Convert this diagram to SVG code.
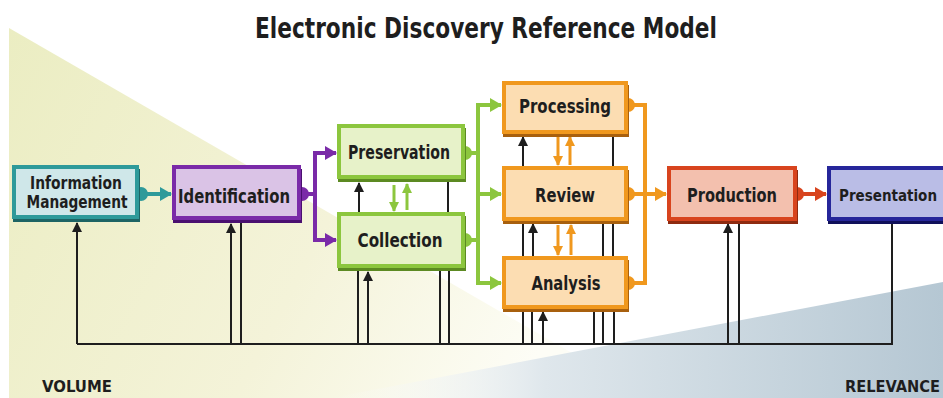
<svg xmlns="http://www.w3.org/2000/svg" width="943" height="398" viewBox="0 0 943 398">
<defs>
<linearGradient id="gVol" x1="0" y1="0" x2="1" y2="0.3">
<stop offset="0" stop-color="#ebedc2"/>
<stop offset="0.6" stop-color="#f4f3d9"/>
<stop offset="1" stop-color="#fdfdf6"/>
</linearGradient>
<linearGradient id="gRel" x1="0" y1="0" x2="1" y2="0">
<stop offset="0" stop-color="#ffffff" stop-opacity="0"/>
<stop offset="0.35" stop-color="#dfe7ec"/>
<stop offset="1" stop-color="#b5c7d3"/>
</linearGradient>
<marker id="aTeal" markerUnits="userSpaceOnUse" markerWidth="12" markerHeight="14" refX="11" refY="7" orient="auto"><path d="M0,0 L12,7 L0,14 Z" fill="#2e9a9a"/></marker>
<marker id="aPurple" markerUnits="userSpaceOnUse" markerWidth="12" markerHeight="14" refX="11" refY="7" orient="auto"><path d="M0,0 L12,7 L0,14 Z" fill="#7a2aa8"/></marker>
<marker id="aGreen" markerUnits="userSpaceOnUse" markerWidth="12" markerHeight="14" refX="11" refY="7" orient="auto"><path d="M0,0 L12,7 L0,14 Z" fill="#8cc63e"/></marker>
<marker id="aOrange" markerUnits="userSpaceOnUse" markerWidth="12" markerHeight="14" refX="11" refY="7" orient="auto"><path d="M0,0 L12,7 L0,14 Z" fill="#f0981e"/></marker>
<marker id="aRed" markerUnits="userSpaceOnUse" markerWidth="12" markerHeight="14" refX="11" refY="7" orient="auto"><path d="M0,0 L12,7 L0,14 Z" fill="#d8441e"/></marker>
<marker id="aBlack" markerUnits="userSpaceOnUse" markerWidth="10" markerHeight="10" refX="9" refY="5" orient="auto"><path d="M0,0 L10,5 L0,10 Z" fill="#1e1e1e"/></marker>
<marker id="aGreenS" markerUnits="userSpaceOnUse" markerWidth="10" markerHeight="10" refX="9" refY="5" orient="auto"><path d="M0,0 L10,5 L0,10 Z" fill="#8cc63e"/></marker>
<marker id="aOrangeS" markerUnits="userSpaceOnUse" markerWidth="10" markerHeight="10" refX="9" refY="5" orient="auto"><path d="M0,0 L10,5 L0,10 Z" fill="#f0981e"/></marker>
</defs>
<style>
.lbl{font-family:"Liberation Sans Narrow","DejaVu Sans Condensed","Liberation Sans",sans-serif;font-weight:bold;font-stretch:condensed;fill:#1e1e1e;}
.node{font-size:19px;}
.blk{stroke:#1e1e1e;stroke-width:2;fill:none;}
.sh{stroke:none;}
.box{stroke-width:4;}
.teal .box{stroke:#2e9a9a;fill:#cfe7e9;} .teal .sh{fill:#1d6464;}
.purple .box{stroke:#7a2aa8;fill:#dac3e6;} .purple .sh{fill:#4a1070;}
.green .box{stroke:#8cc63e;fill:#e7f2c9;} .green .sh{fill:#5c8a22;}
.orange .box{stroke:#f0981e;fill:#fcddb2;} .orange .sh{fill:#a8600e;}
.red .box{stroke:#d8441e;fill:#f3c0ae;} .red .sh{fill:#8e2a10;}
.blue .box{stroke:#26269a;fill:#babde6;} .blue .sh{fill:#10105a;}
.cTeal{stroke:#2e9a9a;fill:none;stroke-width:4;}
.cPurple{stroke:#7a2aa8;fill:none;stroke-width:4;}
.cGreen{stroke:#8cc63e;fill:none;stroke-width:4;}
.cOrange{stroke:#f0981e;fill:none;stroke-width:4;}
.cRed{stroke:#d8441e;fill:none;stroke-width:4;}
</style>
<rect x="0" y="0" width="943" height="398" fill="#ffffff"/>
<polygon points="9,28 9,398 650,398" fill="url(#gVol)"/>
<polygon points="330,398 943,282 943,398" fill="url(#gRel)"/>

<text class="lbl" x="486" y="38" font-size="28" text-anchor="middle" textLength="462" lengthAdjust="spacingAndGlyphs">Electronic Discovery Reference Model</text>

<g id="connectors">
<path class="blk" d="M77,344 H892 V223"/>
<line class="blk" x1="77" y1="344" x2="77" y2="223" marker-end="url(#aBlack)"/>
<line class="blk" x1="231" y1="344" x2="231" y2="224" marker-end="url(#aBlack)"/>
<line class="blk" x1="241" y1="344" x2="241" y2="223"/>
<line class="blk" x1="358" y1="344" x2="358" y2="271"/>
<line class="blk" x1="368" y1="344" x2="368" y2="272" marker-end="url(#aBlack)"/>
<line class="blk" x1="440" y1="344" x2="440" y2="271"/>
<line class="blk" x1="449" y1="344" x2="449" y2="271"/>
<line class="blk" x1="359" y1="213" x2="359" y2="183" marker-end="url(#aBlack)"/>
<line class="blk" x1="448" y1="213" x2="448" y2="182"/>
<line class="blk" x1="523" y1="344" x2="523" y2="311"/>
<line class="blk" x1="532" y1="344" x2="532" y2="311"/>
<line class="blk" x1="543" y1="344" x2="543" y2="312" marker-end="url(#aBlack)"/>
<line class="blk" x1="594" y1="344" x2="594" y2="311"/>
<line class="blk" x1="603" y1="344" x2="603" y2="311"/>
<line class="blk" x1="614" y1="344" x2="614" y2="311"/>
<line class="blk" x1="523" y1="257" x2="523" y2="223"/>
<line class="blk" x1="533" y1="257" x2="533" y2="224" marker-end="url(#aBlack)"/>
<line class="blk" x1="603" y1="257" x2="603" y2="223"/>
<line class="blk" x1="613" y1="257" x2="613" y2="223"/>
<line class="blk" x1="523" y1="167" x2="523" y2="137" marker-end="url(#aBlack)"/>
<line class="blk" x1="613" y1="167" x2="613" y2="136"/>
<line class="blk" x1="728" y1="344" x2="728" y2="224" marker-end="url(#aBlack)"/>
<line class="blk" x1="739" y1="344" x2="739" y2="223"/>

<line class="cTeal" x1="141" y1="194" x2="171" y2="194" marker-end="url(#aTeal)"/>
<circle cx="141" cy="194" r="7" fill="#2e9a9a"/>
<path class="cPurple" d="M302,194 H315"/>
<path class="cPurple" d="M315,194 V153 H336" marker-end="url(#aPurple)"/>
<path class="cPurple" d="M315,194 V240 H336" marker-end="url(#aPurple)"/>
<circle cx="302" cy="194" r="7" fill="#7a2aa8"/>
<path class="cGreen" d="M465,153 H478"/>
<path class="cGreen" d="M465,240 H478"/>
<path class="cGreen" d="M478,194 V105 H501" marker-end="url(#aGreen)"/>
<path class="cGreen" d="M478,194 H501" marker-end="url(#aGreen)"/>
<path class="cGreen" d="M478,194 V283 H501" marker-end="url(#aGreen)"/>
<circle cx="465" cy="153" r="7" fill="#8cc63e"/>
<circle cx="465" cy="240" r="7" fill="#8cc63e"/>
<line x1="394" y1="185" x2="394" y2="211" stroke="#8cc63e" stroke-width="3" marker-end="url(#aGreenS)"/>
<line x1="407" y1="210" x2="407" y2="184" stroke="#8cc63e" stroke-width="3" marker-end="url(#aGreenS)"/>
<path class="cOrange" d="M628,105 H645 V283 H628"/>
<line class="cOrange" x1="628" y1="194" x2="666" y2="194" marker-end="url(#aOrange)"/>
<circle cx="628" cy="105" r="7" fill="#f0981e"/>
<circle cx="628" cy="194" r="7" fill="#f0981e"/>
<circle cx="628" cy="283" r="7" fill="#f0981e"/>
<line x1="558" y1="137" x2="558" y2="165" stroke="#f0981e" stroke-width="3" marker-end="url(#aOrangeS)"/>
<line x1="570" y1="165" x2="570" y2="137" stroke="#f0981e" stroke-width="3" marker-end="url(#aOrangeS)"/>
<line x1="558" y1="225" x2="558" y2="255" stroke="#f0981e" stroke-width="3" marker-end="url(#aOrangeS)"/>
<line x1="571" y1="255" x2="571" y2="225" stroke="#f0981e" stroke-width="3" marker-end="url(#aOrangeS)"/>
<line class="cRed" x1="797" y1="194" x2="826" y2="194" marker-end="url(#aRed)"/>
<circle cx="797" cy="194" r="7" fill="#d8441e"/>
</g>

<g id="information-management" class="teal">
<rect class="sh" x="13" y="169" width="127" height="53"/>
<rect class="box" x="14" y="167" width="123" height="50"/>
<text class="lbl" font-size="17" x="76" y="189" text-anchor="middle" textLength="92" lengthAdjust="spacingAndGlyphs">Information</text>
<text class="lbl" font-size="17" x="77" y="208" text-anchor="middle" textLength="101" lengthAdjust="spacingAndGlyphs">Management</text>
</g>
<g id="identification" class="purple">
<rect class="sh" x="173" y="169" width="129" height="54"/>
<rect class="box" x="174" y="167" width="125" height="51"/>
<text class="lbl node" x="234" y="203" text-anchor="middle" textLength="112" lengthAdjust="spacingAndGlyphs">Identification</text>
</g>
<g id="preservation" class="green">
<rect class="sh" x="338" y="128" width="128" height="54"/>
<rect class="box" x="339" y="126" width="124" height="51"/>
<text class="lbl node" x="399" y="159" text-anchor="middle" textLength="102" lengthAdjust="spacingAndGlyphs">Preservation</text>
</g>
<g id="collection" class="green">
<rect class="sh" x="338" y="216" width="128" height="55"/>
<rect class="box" x="339" y="214" width="124" height="52"/>
<text class="lbl node" x="400" y="247" text-anchor="middle" textLength="85" lengthAdjust="spacingAndGlyphs">Collection</text>
</g>
<g id="processing" class="orange">
<rect class="sh" x="503" y="85" width="126" height="52"/>
<rect class="box" x="504" y="83" width="122" height="49"/>
<text class="lbl node" x="565" y="113" text-anchor="middle" textLength="92" lengthAdjust="spacingAndGlyphs">Processing</text>
</g>
<g id="review" class="orange">
<rect class="sh" x="503" y="170" width="126" height="54"/>
<rect class="box" x="504" y="168" width="122" height="51"/>
<text class="lbl node" x="565" y="202" text-anchor="middle" textLength="60" lengthAdjust="spacingAndGlyphs">Review</text>
</g>
<g id="analysis" class="orange">
<rect class="sh" x="503" y="260" width="126" height="52"/>
<rect class="box" x="504" y="258" width="122" height="49"/>
<text class="lbl node" x="566" y="290" text-anchor="middle" textLength="69" lengthAdjust="spacingAndGlyphs">Analysis</text>
</g>
<g id="production" class="red">
<rect class="sh" x="668" y="170" width="130" height="54"/>
<rect class="box" x="669" y="168" width="126" height="51"/>
<text class="lbl node" x="732" y="202" text-anchor="middle" textLength="90" lengthAdjust="spacingAndGlyphs">Production</text>
</g>
<g id="presentation" class="blue">
<rect class="sh" x="828" y="170" width="140" height="54"/>
<rect class="box" x="829" y="168" width="136" height="51"/>
<text class="lbl" font-size="15.5" x="839" y="201" textLength="98" lengthAdjust="spacingAndGlyphs">Presentation</text>
</g>

<text class="lbl" x="42" y="392" font-size="16" textLength="70" lengthAdjust="spacingAndGlyphs">VOLUME</text>
<text class="lbl" x="845" y="392" font-size="16" textLength="95" lengthAdjust="spacingAndGlyphs">RELEVANCE</text>
</svg>
